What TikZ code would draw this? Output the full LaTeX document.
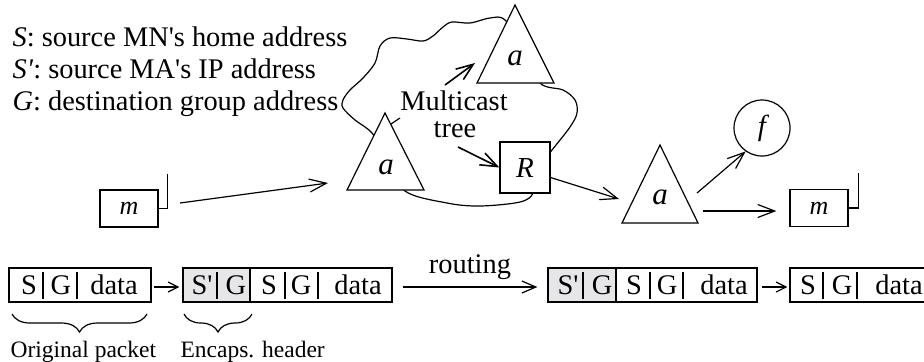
\documentclass[tikz,border=0pt]{standalone}
\usepackage{fontspec}
\setmainfont{Liberation Serif}
\usepackage{xcolor}
\usetikzlibrary{arrows.meta}
\usetikzlibrary{decorations.pathreplacing}
\tikzset{>={Straight Barb[length=8.5pt,width=6.5pt]}}
\definecolor{hdrgray}{HTML}{E6E6E8}

\begin{document}
\begin{tikzpicture}[x=0.5pt,y=-0.5pt,line width=0.6pt,
		every node/.style={font=\fontsize{14.2}{16}\selectfont},
		mobile/.style={draw,fill=white,minimum width=29pt,minimum height=18.5pt,inner sep=0pt,font=\fontsize{13}{14}\selectfont\itshape},
		router/.style={draw,fill=white,minimum width=25pt,minimum height=25.5pt,inner sep=0pt,font=\fontsize{14.5}{15}\selectfont\itshape},
		agent/.style={inner sep=0pt,font=\fontsize{15.5}{16}\selectfont\itshape},
		pkt/.style={draw,minimum height=17pt,inner sep=0pt},
		field/.style={anchor=base,inner sep=0pt},
		pktarrow/.style={-{Straight Barb[length=5pt,width=5pt]}},
		small/.style={anchor=base west,inner sep=0pt,font=\fontsize{11.75}{13}\selectfont}]
		\useasboundingbox (0,0) rectangle (924,361);
		\clip (0,0) rectangle (924,361);

		% legend
		\node[anchor=base west,inner sep=0pt] (lg1) at (12,46) {\textit{S}: source MN\textquotesingle s home address};
		\node[anchor=base west,inner sep=0pt] (lg2) at (12,78) {\textit{S\textquotesingle}: source MA\textquotesingle s IP address};
		\node[anchor=base west,inner sep=0pt] (lg3) at (12,110) {\textit{G}: destination group address};

		% the network cloud
		\draw plot[smooth cycle,tension=0.55] coordinates {(390,160) (372,133) (355,120) (343,108) (343,100) (350,90) (363,78) (375,63) (380,46) (390,38) (407,39) (423,41) (433,36) (443,27) (452,22) (470,23) (490,18) (505,20) (525,50) (540,83) (563,90) (575,100) (577,113) (570,127) (552,150) (532,175) (533,193) (520,202) (480,206) (447,203) (405,191)};

		% agents
		\draw[fill=white] (385,113) -- (424,190) -- (347,190) -- cycle;
		\node[agent] (aL) at (386,167) {a};
		\draw[fill=white] (515,5) -- (554,83) -- (477,83) -- cycle;
		\node[agent] (aT) at (515,58) {a};
		\draw[fill=white] (660,145) -- (698,223) -- (622,223) -- cycle;
		\node[agent] (aR) at (660,197) {a};

		\node[router] (R) at (525,167.5) {R};
		\node[draw,circle,minimum size=28pt,inner sep=0pt,font=\fontsize{14.5}{15}\selectfont\itshape] (f) at (762,128) {f};

		% mobile nodes with antennas
		\node[mobile] (mL) at (129,208.5) {m};
		\draw (mL.east) -- ++(9,0) -- ++(0,-35);
		\node[mobile] (mR) at (819,208) {m};
		\draw (mR.east) -- ++(10,0) -- ++(0,-35);

		\node[anchor=base,inner sep=0pt] (mcA) at (454,110) {Multicast};
		\node[anchor=base,inner sep=0pt] (mcB) at (455,137) {tree};

		\coordinate (mLout) at (180,203);
		\coordinate (aLin) at (328,183);
		\coordinate (mcTop) at (445,85);
		\coordinate (aTin) at (475,63);
		\coordinate (mcLow) at (458,147);
		\coordinate (mcLeft) at (400,118);
		\coordinate (aLside) at (391,124);
		\coordinate (aRin) at (619,199);
		\coordinate (aRup) at (697,193);
		\coordinate (aRout) at (703,211);

		\draw[->] (mLout) -- (aLin);
		\draw[->,line width=0.8pt] (mcTop) -- (aTin);
		\draw[->,line width=0.8pt] (mcLow) -- (R.west);
		\draw (mcLeft) -- (aLside);
		\draw[->] ([yshift=-5pt]R.east) -- (aRin);
		\draw[->] (aRup) -- (f.235);
		\draw[->,shorten >=6.5pt] (aRout) -- ([yshift=-1.5pt]mR.west);

		% packets
		\fill[hdrgray] (183,268) rectangle (250,302);
		\fill[hdrgray] (548,268) rectangle (616,302);
		\node[pkt,minimum width=71pt] (p1) at (80,285) {};
		\node[pkt,minimum width=104.5pt] (p2) at (287.5,285) {};
		\node[pkt,minimum width=104.5pt] (p3) at (652.5,285) {};
		\node[pkt,minimum width=71pt] (p4) at (861,285) {};
		\draw (250,268) -- (250,302);
		\draw (616,268) -- (616,302);
		\foreach \x in {43,77,217,285,318,583,650,683,823,857}
			\draw (\x,272) -- (\x,299);

		\foreach \x/\t [count=\i] in {29/S,61/G,114/data}
			\node[field] (p1-\i) at (\x,294) {\t};
		\foreach \x/\t [count=\i] in {202/S\textquotesingle,236/G,269/S,301/G,358/data}
			\node[field] (p2-\i) at (\x,294) {\t};
		\foreach \x/\t [count=\i] in {568/S\textquotesingle,602/G,634/S,667/G,724/data}
			\node[field] (p3-\i) at (\x,294) {\t};
		\foreach \x/\t [count=\i] in {808/S,842/G,899/data}
			\node[field] (p4-\i) at (\x,294) {\t};

		\draw[pktarrow,shorten <=1pt,shorten >=1.5pt] ([yshift=-1pt]p1.east) -- ([yshift=-1pt]p2.west);
		\draw[-{Straight Barb[length=7pt,width=6pt]},shorten <=5pt,shorten >=5pt] ([yshift=-1pt]p2.east) -- node[above] (rt) {routing} ([yshift=-1pt]p3.west);
		\draw[pktarrow,shorten <=2pt,shorten >=1pt] ([yshift=-1pt]p3.east) -- ([yshift=-1pt]p4.west);

		% braces
		\draw[decorate,decoration={brace,mirror,amplitude=9pt}] (12,314) -- (147,314);
		\draw[decorate,decoration={brace,mirror,amplitude=9pt}] (184,314) -- (252,314);
		\node[small] (orig) at (10,357) {Original packet};
		\node[small] (encap) at (180,357) {Encaps. header};
	\end{tikzpicture}
\end{document}
